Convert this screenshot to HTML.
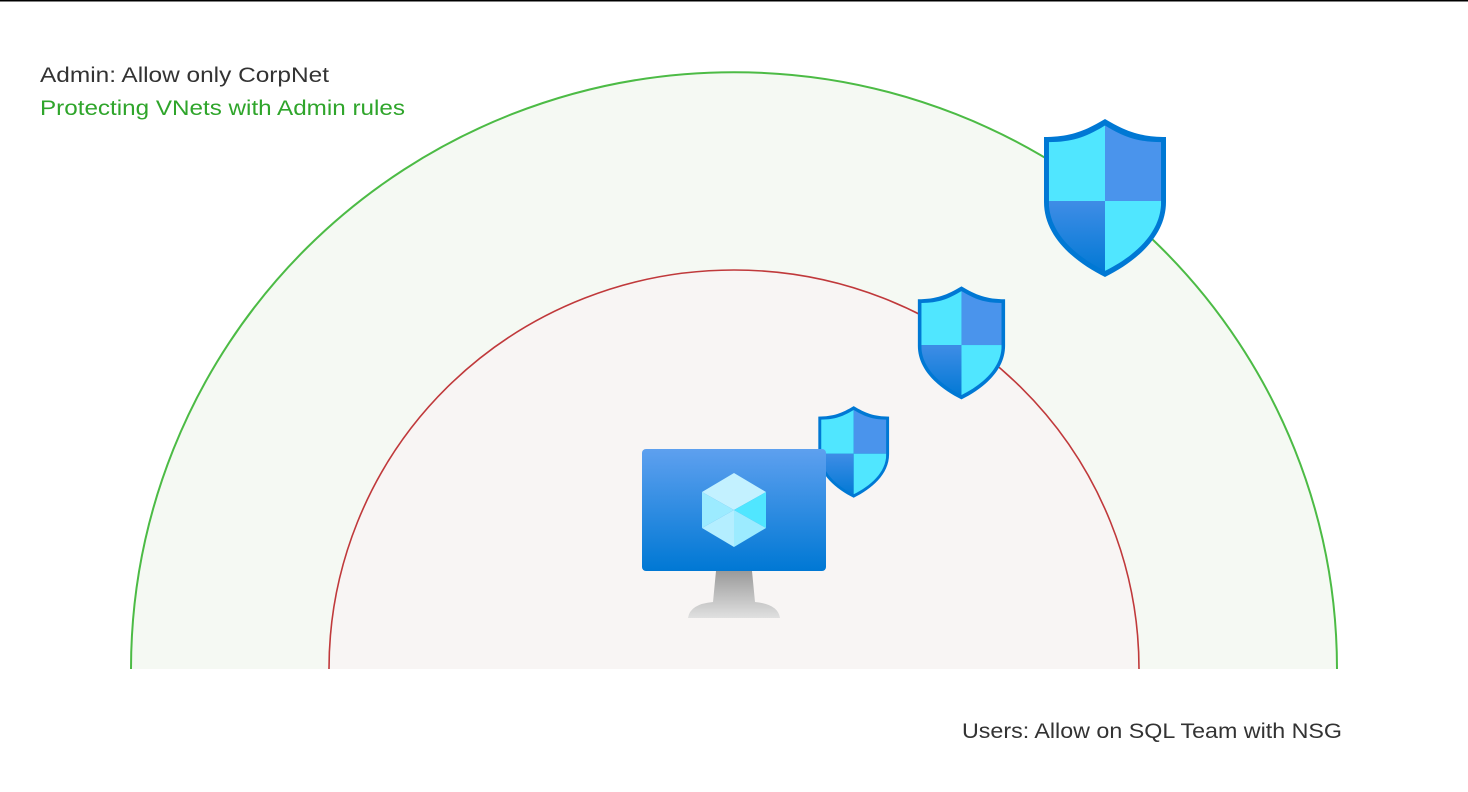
<!DOCTYPE html>
<html><head><style>
html,body{margin:0;padding:0;background:#fff;width:1468px;height:792px;overflow:hidden}
svg{display:block}
text{font-family:"Liberation Sans",sans-serif;font-size:21px}
</style></head><body>
<svg width="1468" height="792" viewBox="0 0 1468 792">
<defs>
<linearGradient id="mon" x1="0" y1="0" x2="0" y2="1"><stop offset="0" stop-color="#5ea0ef"/><stop offset="1" stop-color="#0078d4"/></linearGradient>
<linearGradient id="stand" x1="0" y1="0" x2="0" y2="1"><stop offset="0" stop-color="#9a9a9a"/><stop offset="1" stop-color="#e0e0e0"/></linearGradient>
<linearGradient id="sd" x1="0" y1="0" x2="0" y2="1"><stop offset="0" stop-color="#3f8de6"/><stop offset="1" stop-color="#0078d4"/></linearGradient>
<clipPath id="shc"><path d="M4,20 C30,20 45,14 65,2 C85,14 100,20 126,20 L126,85 C126,120 95,145 65,160 C35,145 4,120 4,85 Z"/></clipPath>
<g id="shield">
<path d="M4,20 C30,20 45,14 65,2 C85,14 100,20 126,20 L126,85 C126,120 95,145 65,160 C35,145 4,120 4,85 Z" fill="#0078d4"/>
<g clip-path="url(#shc)" transform="translate(65,84) scale(0.92) translate(-65,-84)">
<rect x="0" y="0" width="65" height="84" fill="#50e6ff"/>
<rect x="65" y="0" width="70" height="84" fill="#4a94ec"/>
<rect x="0" y="84" width="65" height="80" fill="url(#sd)"/>
<rect x="65" y="84" width="70" height="80" fill="#50e6ff"/>
</g>
</g>
</defs>
<rect x="0" y="0" width="1468" height="1.5" fill="#000"/>
<path d="M131,669 A603,597 0 0 1 1337,669 Z" fill="#f5f9f3" stroke="none"/>
<path d="M131,669 A603,597 0 0 1 1337,669" fill="none" stroke="#4cbb45" stroke-width="2"/>
<path d="M329,669 A405,399 0 0 1 1139,669 Z" fill="#f8f5f4"/>
<path d="M329,669 A405,399 0 0 1 1139,669" fill="none" stroke="#c0393b" stroke-width="1.6"/>
<text x="40" y="82" fill="#333" textLength="289" lengthAdjust="spacingAndGlyphs">Admin: Allow only CorpNet</text>
<text x="40" y="115" fill="#2fa52b" textLength="365" lengthAdjust="spacingAndGlyphs">Protecting VNets with Admin rules</text>
<text x="962" y="738" fill="#333" textLength="380" lengthAdjust="spacingAndGlyphs">Users: Allow on SQL Team with NSG</text>
<use href="#shield" transform="translate(1040,117)"/>
<use href="#shield" transform="translate(915,285) scale(0.715,0.715)"/>
<use href="#shield" transform="translate(816,405) scale(0.58,0.58)"/>
<path d="M716,571 L752,571 L755,602 Q778,604 780,618 L688,618 Q690,604 713,602 Z" fill="url(#stand)"/>
<rect x="642" y="449" width="184" height="122" rx="4" fill="url(#mon)"/>
<g transform="translate(734,510)">
<polygon points="0,-37 32,-18 0,0 -32,-18" fill="#c3f1ff"/>
<polygon points="-32,-18 0,0 -32,18" fill="#9cebff"/>
<polygon points="32,-18 0,0 32,18" fill="#50e6ff"/>
<polygon points="0,0 -32,18 0,37" fill="#b4eeff"/>
<polygon points="0,0 32,18 0,37" fill="#9cebff"/>
</g>
</svg>
</body></html>
